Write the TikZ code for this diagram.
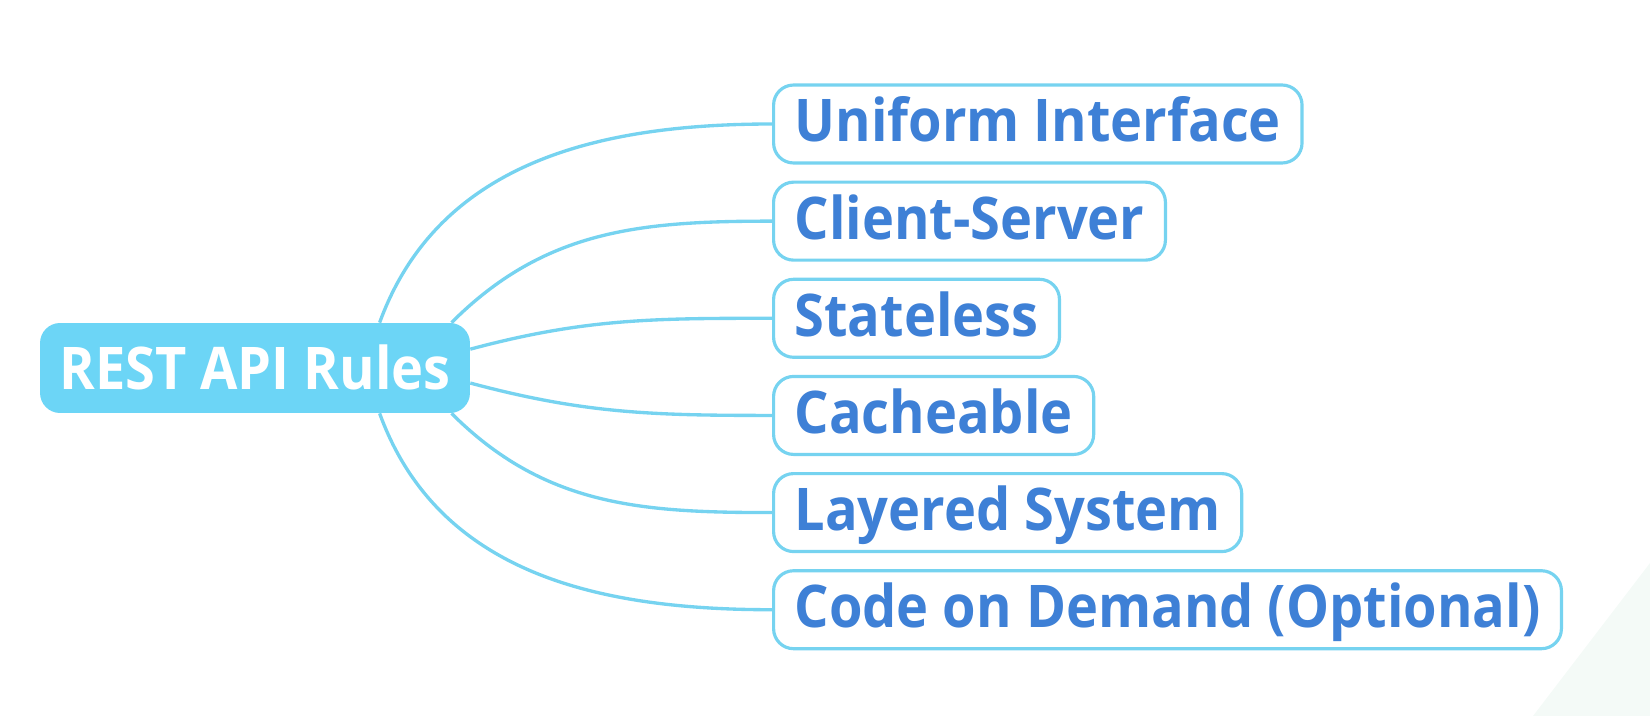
\documentclass[tikz,border=0pt]{standalone}
\usepackage{fontspec}
\setmainfont{Open Sans}[FakeStretch=0.92]
\usetikzlibrary{positioning,backgrounds}
\definecolor{rootcol}{RGB}{108,213,246}
\definecolor{linkcol}{RGB}{118,211,240}
\definecolor{rulecol}{RGB}{62,128,214}
\definecolor{cornercol}{RGB}{244,250,247}

\begin{document}
\begin{tikzpicture}[
    x=0.02cm, y=0.02cm,
    rootbox/.style={rounded corners=0.4cm, fill=rootcol, text=white, minimum width=8.6cm, minimum height=1.8cm,
                    inner ysep=2pt, font=\bfseries\fontsize{33.5}{40}\selectfont, text height=24pt, text depth=0pt},
    rulebox/.style={draw=linkcol, line width=1.8pt, rounded corners=0.4cm, fill=white, text=rulecol,
                    minimum height=1.56cm, inner xsep=0.42cm, inner ysep=2pt, text height=24pt, text depth=3.6pt,
                    font=\bfseries\fontsize{33.5}{40}\selectfont},
    link/.style={draw=linkcol, line width=1.9pt},
]
\useasboundingbox (0,0) rectangle (1650,-716);

% ============ ROOT ============
\node[rootbox] (root) at (255,-368) {REST API Rules};

% ============ RULES ============
\node[rulebox, anchor=west] (uniform) at (772,-124) {Uniform Interface};
\node[rulebox, below=0.32cm of uniform.south west, anchor=north west] (client) {Client-Server};
\node[rulebox, below=0.32cm of client.south west, anchor=north west] (stateless) {Stateless};
\node[rulebox, below=0.32cm of stateless.south west, anchor=north west] (cache) {Cacheable};
\node[rulebox, below=0.32cm of cache.south west, anchor=north west] (layered) {Layered System};
\node[rulebox, below=0.32cm of layered.south west, anchor=north west] (code) {Code on Demand (Optional)};

% ============ BRANCHES ============
\begin{scope}[on background layer]
    \fill[cornercol] (1533,-716) -- (1650,-563) -- (1650,-716) -- cycle;
    \draw[link] (root.20) to[out=70, in=180] (uniform.west);
    \draw[link] (root.13) to[out=45, in=180] (client.west);
    \draw[link] (root.5) to[out=15, in=180] (stateless.west);
    \draw[link] (root.-4) to[out=-15, in=180] (cache.west);
    \draw[link] (root.-13) to[out=-45, in=180] (layered.west);
    \draw[link] (root.-20) to[out=-70, in=180] (code.west);
\end{scope}

\end{tikzpicture}
\end{document}
